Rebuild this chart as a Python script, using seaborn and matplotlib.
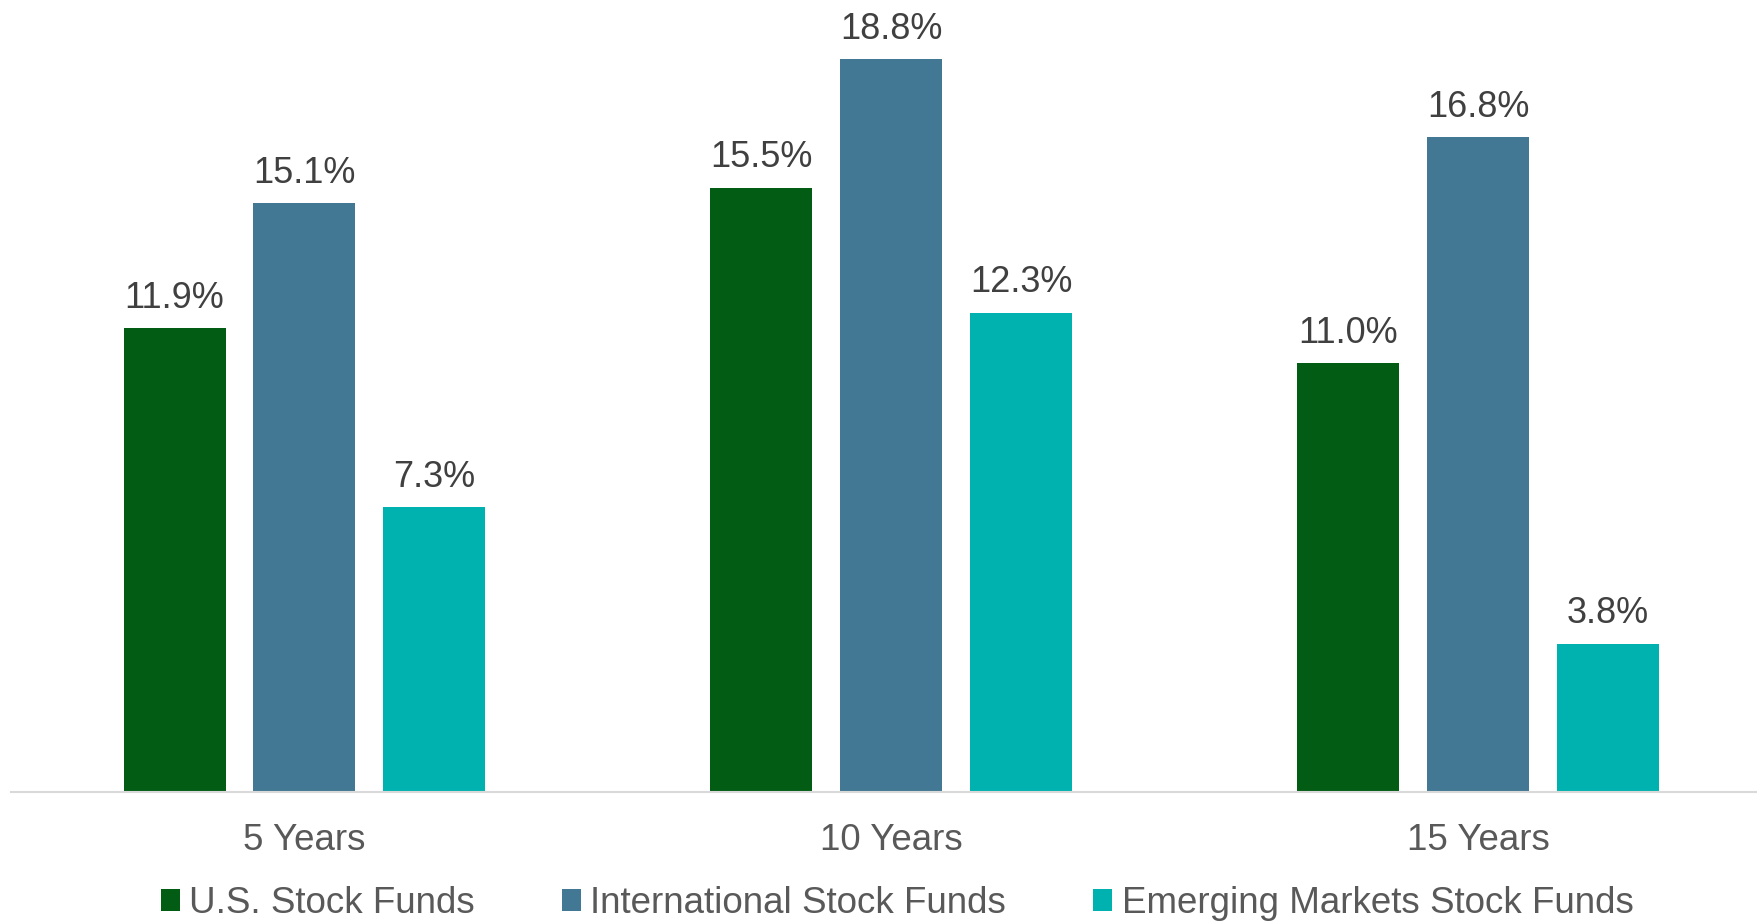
import matplotlib
matplotlib.use("Agg")
import matplotlib.pyplot as plt
import seaborn as sns
import pandas as pd

# Average annualized returns by fund category and period
periods = ["5 Years", "10 Years", "15 Years"]
fund_types = ["U.S. Stock Funds", "International Stock Funds", "Emerging Markets Stock Funds"]
us_stock = [11.9, 15.5, 11.0]
intl_stock = [15.1, 18.8, 16.8]
em_stock = [7.3, 12.3, 3.8]
palette = ["#035C14", "#427893", "#00B2AF"]

df = pd.DataFrame({
    "period": periods * 3,
    "fund": [f for f in fund_types for _ in periods],
    "value": us_stock + intl_stock + em_stock,
})

sns.set_theme(style="white")
plt.rcParams["font.family"] = ["Liberation Sans", "DejaVu Sans"]

W, H = 1758, 921
fig = plt.figure(figsize=(W / 100, H / 100), dpi=100)
ax = fig.add_axes([11 / W, (H - 792) / H, (W - 11) / W, 792 / H])

sns.barplot(
    data=df, x="period", y="value", hue="fund",
    order=periods, hue_order=fund_types, palette=palette,
    width=0.664, gap=0.215, linewidth=0, saturation=1, ax=ax,
)

for cont in ax.containers:
    ax.bar_label(cont, fmt="%.1f%%", padding=9, fontsize=26, color="#404040")

ax.set_xlim(-0.5, 2.477)
ax.set_ylim(0, 20.32)
ax.set_xlabel("")
ax.set_ylabel("")
ax.set_yticks([])
ax.tick_params(axis="x", length=0, pad=22, labelsize=26.5, labelcolor="#595959")
for side in ["top", "right", "left"]:
    ax.spines[side].set_visible(False)
ax.spines["bottom"].set_color("#D9D9D9")
ax.spines["bottom"].set_linewidth(1.5)

sns.move_legend(
    ax, "lower center", bbox_to_anchor=(897 / W, 0), bbox_transform=fig.transFigure,
    ncol=3, frameon=False, title=None, fontsize=26.5,
    handlelength=0.52, handleheight=0.52, handletextpad=0.25,
    columnspacing=2.37, borderpad=0, borderaxespad=0,
)
for t in ax.get_legend().get_texts():
    t.set_color("#595959")

fig.savefig("out.png", dpi=100)
